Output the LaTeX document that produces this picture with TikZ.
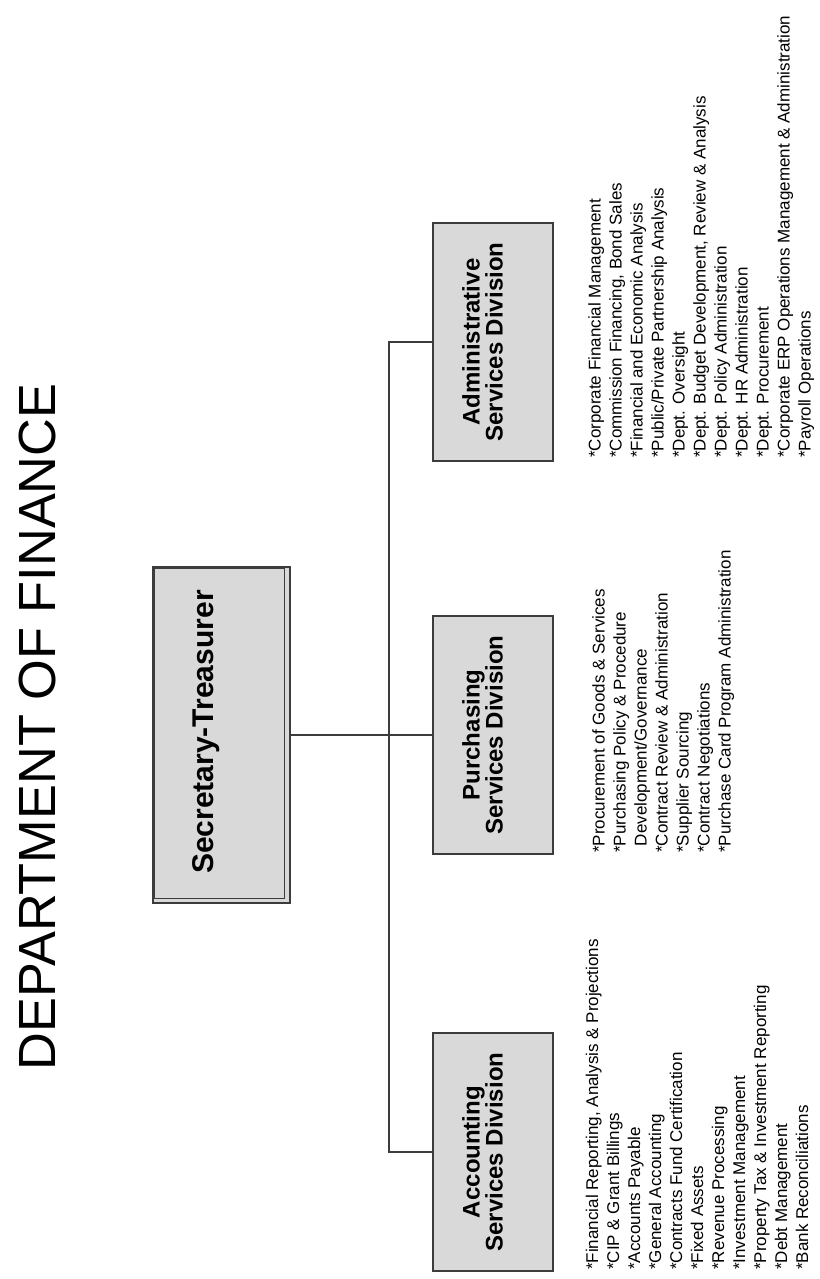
\documentclass[tikz,border=0pt]{standalone}
\usepackage{fontspec}
\setmainfont{Liberation Sans}
\definecolor{boxfill}{HTML}{D9D9D9}
\definecolor{edge}{HTML}{3C3C3C}
\tikzset{
  secbox/.style={draw=edge, line width=1.5pt, fill=boxfill, minimum width=137pt, minimum height=336pt, inner sep=0pt},
  divbox/.style={draw=edge, line width=1.5pt, fill=boxfill, minimum width=120pt, minimum height=238pt, inner sep=0pt},
  conn/.style={draw=edge, line width=1.3pt},
  boxtext/.style={rotate=90, font=\bfseries\fontsize{24}{23}\selectfont, align=center, inner sep=0pt, anchor=north},
  listtext/.style={rotate=90, font=\fontsize{17}{21}\selectfont, align=left, inner sep=0pt, anchor=north west},
}
\begin{document}
\begin{tikzpicture}[x=1pt, y=-1pt]
\fill[white] (0,0) rectangle (819,1279);
\useasboundingbox (0,0) rectangle (819,1279);

% title
\node[rotate=90, anchor=base, inner sep=0pt, font=\fontsize{52.3}{60}\selectfont] (title) at (55,727) {DEPARTMENT OF FINANCE};

% boxes
\node[secbox] (sec) at (221.5,735) {};
\draw[edge, line width=1pt] ([shift={(2.5,2.5)}]sec.north west) rectangle ([shift={(-6,-5)}]sec.south east);
\node[divbox] (adm) at (493,342) {};
\node[divbox] (pur) at (493,735) {};
\node[divbox] (acc) at (493,1152) {};

% connectors
\coordinate (bus) at (389,735);
\draw[conn] (sec.east |- pur.west) -- (pur.west);
\draw[conn] (adm.west) -- (adm.west -| bus) -- (acc.west -| bus) -- (acc.west);

% box texts
\node[rotate=90, anchor=base, inner sep=0pt, font=\bfseries\fontsize{30}{32}\selectfont] (sectext) at (213,732) {Secretary-Treasurer};
\node[boxtext] (admtext) at (462,342) {Administrative\\Services Division};
\node[boxtext] (purtext) at (462,735) {Purchasing\\Services Division};
\node[boxtext] (acctext) at (462,1152) {Accounting\\Services Division};

% lists
\node[listtext] (acclist) at (585.7,1270) {*Financial Reporting, Analysis \& Projections\\
*CIP \& Grant Billings\\
*Accounts Payable\\
*General Accounting\\
*Contracts Fund Certification\\
*Fixed Assets\\
*Revenue Processing\\
*Investment Management\\
*Property Tax \& Investment Reporting\\
*Debt Management\\
*Bank Reconciliations};
\node[listtext] (purlist) at (592,853) {*Procurement of Goods \& Services\\
*Purchasing Policy \& Procedure\\
\phantom{*}Development/Governance\\
*Contract Review \& Administration\\
*Supplier Sourcing\\
*Contract Negotiations\\
*Purchase Card Program Administration};
\node[listtext] (admlist) at (588,458) {*Corporate Financial Management\\
*Commission Financing, Bond Sales\\
*Financial and Economic Analysis\\
*Public/Private Partnership Analysis\\
*Dept. Oversight\\
*Dept. Budget Development, Review \& Analysis\\
*Dept. Policy Administration\\
*Dept. HR Administration\\
*Dept. Procurement\\
*Corporate ERP Operations Management \& Administration\\
*Payroll Operations};
\end{tikzpicture}
\end{document}
